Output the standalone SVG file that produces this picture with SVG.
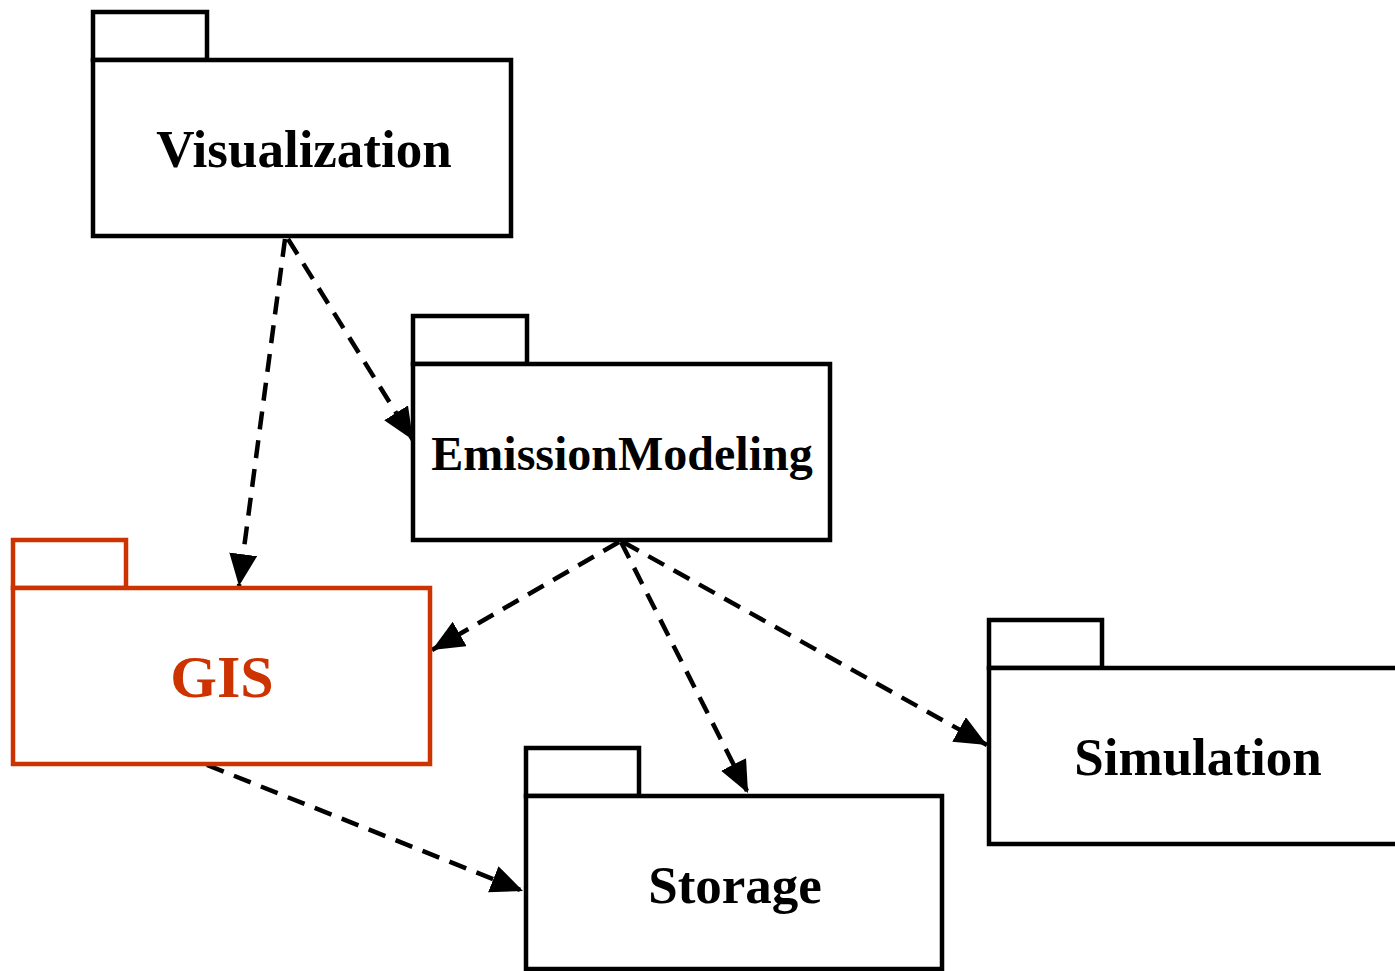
<svg xmlns="http://www.w3.org/2000/svg" width="1395" height="971" viewBox="0 0 1395 971">
<style>
.box{fill:#fff;stroke:#000;stroke-width:4.5}
.red{stroke:#CC3300}
.lbl{font-family:"Liberation Serif","Times New Roman",serif;font-weight:bold;text-anchor:middle;fill:#000}
.edge{fill:none;stroke:#000;stroke-width:4.5;stroke-dasharray:18,11}
</style>
<defs>
<marker id="ah" markerUnits="userSpaceOnUse" markerWidth="34" markerHeight="30" refX="32" refY="14" orient="auto" viewBox="0 0 34 30">
<path d="M0,0 L32,14 L0,28 Z" fill="#000"/>
</marker>
</defs>
<rect width="1395" height="971" fill="#fff"/>
<g id="edges">
<path class="edge" d="M285,239 L239,586" marker-end="url(#ah)"/>
<path class="edge" d="M288,239 L413,440" marker-end="url(#ah)"/>
<path class="edge" d="M619,542 L432,650" marker-end="url(#ah)"/>
<path class="edge" d="M621,542 L748,793" marker-end="url(#ah)"/>
<path class="edge" d="M623,542 L987,745" marker-end="url(#ah)"/>
<path class="edge" d="M207,765 L523,891" marker-end="url(#ah)"/>
</g>
<g id="Visualization">
<rect class="box" x="93" y="12" width="114" height="48"/>
<rect class="box" x="93" y="60" width="418" height="176"/>
<text class="lbl" x="304" y="167" font-size="53">Visualization</text>
</g>
<g id="EmissionModeling">
<rect class="box" x="413" y="316" width="114" height="48"/>
<rect class="box" x="413" y="364" width="417" height="176"/>
<text class="lbl" x="622" y="470" font-size="48">EmissionModeling</text>
</g>
<g id="GIS">
<rect class="box red" x="13" y="540" width="113" height="48"/>
<rect class="box red" x="13" y="588" width="417" height="176"/>
<text class="lbl" x="222" y="697" font-size="60" style="fill:#CC3300">GIS</text>
</g>
<g id="Storage">
<rect class="box" x="526" y="748" width="113" height="48"/>
<rect class="box" x="526" y="796" width="416" height="173"/>
<text class="lbl" x="735" y="903" font-size="53">Storage</text>
</g>
<g id="Simulation">
<rect class="box" x="989" y="620" width="113" height="48"/>
<rect class="box" x="989" y="668" width="420" height="176"/>
<text class="lbl" x="1198" y="775" font-size="53">Simulation</text>
</g>
</svg>
